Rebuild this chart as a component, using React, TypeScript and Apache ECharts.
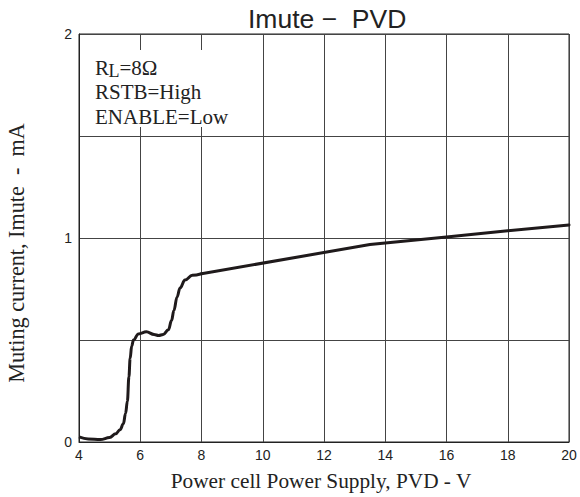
import React, { useEffect, useRef } from "react";
import * as echarts from "echarts";

// Rising part of the curve (PVD 4 V .. 8 V)
const pvdLow = [4.0, 4.3, 4.7, 5.0, 5.2, 5.34, 5.45, 5.52, 5.58, 5.63, 5.67, 5.72, 5.78, 5.94, 6.2, 6.45, 6.6, 6.75, 6.92, 7.02, 7.1, 7.2, 7.3, 7.46, 7.7, 8.0];
const imuteLow = [0.025, 0.015, 0.012, 0.022, 0.04, 0.06, 0.09, 0.14, 0.2, 0.32, 0.41, 0.47, 0.5, 0.53, 0.54, 0.527, 0.522, 0.527, 0.55, 0.595, 0.645, 0.71, 0.755, 0.794, 0.817, 0.825];
// Nearly linear part (PVD 8 V .. 20 V)
const pvdHigh = [8.0, 13.5, 16.0, 18.0, 20.0];
const imuteHigh = [0.825, 0.968, 1.005, 1.036, 1.064];

const titleText = "Imute \u2212  PVD";
const xName = "Power cell Power Supply, PVD - V";
const yName = "Muting current, Imute  -  mA";
const noteLines = ["RSTB=High", "ENABLE=Low"];

export default function App() {
  const ref = useRef<HTMLDivElement>(null);
  useEffect(() => {
    if (!ref.current) return;
    const chart = echarts.init(ref.current, null, { renderer: "svg" });
    const serif = "Liberation Serif, Times New Roman, serif";
    const sans = "Liberation Sans, Arial, sans-serif";
    const lineStyle = { color: "#1f1a1b", width: 3 };
    chart.setOption({
      animation: false,
      backgroundColor: "#ffffff",
      title: {
        text: titleText,
        left: 243,
        top: 0,
        textStyle: { fontFamily: sans, fontSize: 26.5, fontWeight: "normal", color: "#222" },
      },
      grid: {
        left: 79,
        right: 11,
        top: 34,
        bottom: 55,
        show: true,
        borderColor: "#222",
        borderWidth: 1,
        backgroundColor: "transparent",
      },
      xAxis: {
        type: "value",
        min: 4,
        max: 20,
        interval: 2,
        axisLine: { show: true, lineStyle: { color: "#222", width: 1 } },
        axisTick: { show: false },
        axisLabel: { color: "#222", fontFamily: sans, fontSize: 14, margin: 6 },
        splitLine: { show: true, lineStyle: { color: "#444", width: 1 } },
      },
      yAxis: {
        type: "value",
        min: 0,
        max: 2,
        interval: 0.5,
        axisLine: { show: true, lineStyle: { color: "#222", width: 1 } },
        axisTick: { show: false },
        axisLabel: {
          color: "#222",
          fontFamily: sans,
          fontSize: 14,
          margin: 7,
          formatter: (v: number) => (Number.isInteger(v) ? String(v) : ""),
        },
        splitLine: { show: true, lineStyle: { color: "#444", width: 1 } },
      },
      graphic: [
        { type: "rect", shape: { x: 80, y: 50, width: 177, height: 77 }, style: { fill: "#fff" }, z: 10 },
        { type: "text", x: 95, y: 68, style: { text: "R", font: `21px ${serif}`, fill: "#222", verticalAlign: "middle", align: "left" }, z: 11 },
        { type: "text", x: 108.5, y: 71, style: { text: "L", font: `18px ${serif}`, fill: "#222", verticalAlign: "middle", align: "left" }, z: 11 },
        { type: "text", x: 119.5, y: 68, style: { text: "=8\u03A9", font: `21px ${serif}`, fill: "#222", verticalAlign: "middle", align: "left" }, z: 11 },
        { type: "text", x: 95, y: 92, style: { text: noteLines[0], font: `21px ${serif}`, fill: "#222", verticalAlign: "middle", align: "left" }, z: 11 },
        { type: "text", x: 95, y: 117, style: { text: noteLines[1], font: `21px ${serif}`, fill: "#222", verticalAlign: "middle", align: "left" }, z: 11 },
        { type: "text", x: 321, y: 481, style: { text: xName, font: `21.3px ${serif}`, fill: "#222", verticalAlign: "middle", align: "center" } },
        { type: "text", x: 16, y: 253, rotation: Math.PI / 2, style: { text: yName, font: `22.2px ${serif}`, fill: "#222", verticalAlign: "middle", align: "center" } },
      ],
      series: [
        {
          type: "line",
          data: pvdLow.map((x, i) => [x, imuteLow[i]]),
          smooth: 0.4,
          smoothMonotone: "x",
          showSymbol: false,
          symbol: "none",
          lineStyle,
          z: 5,
        },
        {
          type: "line",
          data: pvdHigh.map((x, i) => [x, imuteHigh[i]]),
          smooth: false,
          showSymbol: false,
          symbol: "none",
          lineStyle: { ...lineStyle, join: "round", cap: "round" },
          z: 5,
        },
      ],
    });
    return () => chart.dispose();
  }, []);
  return <div ref={ref} style={{ position: "fixed", left: 0, top: 0, width: 580, height: 497 }} />;
}
